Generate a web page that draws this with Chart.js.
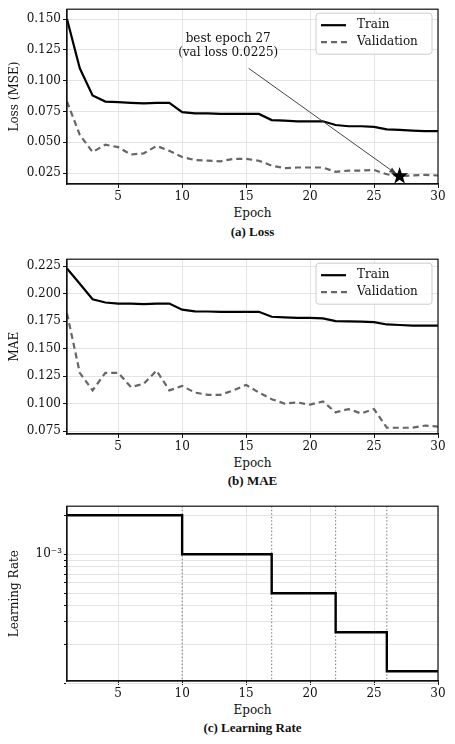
<!DOCTYPE html>
<html><head><meta charset="utf-8">
<script src="https://cdn.jsdelivr.net/npm/chart.js@4/dist/chart.umd.min.js"></script>
<style>
body{margin:0;background:#fff;width:455px;height:744px;position:relative;font-family:"DejaVu Serif",serif;}
.c{position:absolute;left:0;width:455px;}
.t{position:absolute;left:67px;width:371px;text-align:center;font-size:12px;color:#111;line-height:16px;}
.b{font-family:"Liberation Serif",serif;font-weight:bold;font-size:13px;}
</style></head><body>
<div class="c" style="top:0;height:205px"><canvas id="c1"></canvas></div>
<div class="t" style="top:205px">Epoch</div>
<div class="t b" style="top:224px">(a) Loss</div>
<div class="c" style="top:250px;height:205px"><canvas id="c2"></canvas></div>
<div class="t" style="top:455px">Epoch</div>
<div class="t b" style="top:473px">(b) MAE</div>
<div class="c" style="top:497px;height:205px"><canvas id="c3"></canvas></div>
<div class="t" style="top:702px">Epoch</div>
<div class="t b" style="top:720px">(c) Learning Rate</div>
<script>
const epochs=[...Array(30)].map((_,i)=>i+1);
const lossTrain=[0.150,0.110,0.088,0.083,0.0825,0.082,0.0815,0.082,0.082,0.0745,0.0735,0.0735,0.073,0.073,0.073,0.073,0.068,0.0675,0.067,0.067,0.067,0.064,0.063,0.063,0.0625,0.0605,0.060,0.0595,0.059,0.059];
const lossVal=[0.083,0.056,0.042,0.048,0.046,0.040,0.041,0.047,0.043,0.038,0.0355,0.035,0.0345,0.0365,0.0365,0.035,0.031,0.029,0.0295,0.0295,0.0295,0.026,0.027,0.027,0.0275,0.024,0.0225,0.023,0.0235,0.023];
const maeTrain=[0.223,0.209,0.195,0.192,0.191,0.191,0.1905,0.191,0.191,0.1855,0.184,0.1838,0.1835,0.1835,0.1835,0.1835,0.179,0.1785,0.178,0.178,0.1775,0.175,0.1748,0.1745,0.1742,0.172,0.1715,0.171,0.171,0.171];
const maeVal=[0.182,0.128,0.112,0.128,0.128,0.115,0.118,0.130,0.112,0.116,0.110,0.108,0.108,0.112,0.117,0.110,0.104,0.100,0.101,0.099,0.102,0.092,0.095,0.091,0.095,0.078,0.078,0.078,0.080,0.079];
const lr=[0.002,0.002,0.002,0.002,0.002,0.002,0.002,0.002,0.002,0.001,0.001,0.001,0.001,0.001,0.001,0.001,0.0005,0.0005,0.0005,0.0005,0.0005,0.00025,0.00025,0.00025,0.00025,0.000125,0.000125,0.000125,0.000125,0.000125];
const lrDrops=[10,17,22,26];
const bestEpoch=27,bestVal=0.0225;
const lossTicks=[0.025,0.050,0.075,0.100,0.125,0.150];
const maeTicks=[0.075,0.100,0.125,0.150,0.175,0.200,0.225];
const xTicks=[5,10,15,20,25,30];
const FONT={family:"DejaVu Serif",size:12};
Chart.defaults.font=FONT;Chart.defaults.color='#111';
const GRID='#e4e4e4';
function xScale(){return{type:'linear',min:1,max:30,
 afterBuildTicks:s=>{s.ticks=xTicks.map(v=>({value:v}));},
 afterFit:s=>{s.height=21;},
 grid:{color:GRID,drawTicks:true,tickLength:4,tickColor:'#111'},border:{color:'#111',width:1.2},
 ticks:{maxRotation:0,padding:2,callback:v=>v}};}
function yScale(min,max,ticks,title,fmt){return{type:'linear',min,max,
 afterBuildTicks:s=>{s.ticks=ticks.map(v=>({value:v}));},
 afterFit:s=>{s.width=67;},
 grid:{color:GRID,tickLength:4,tickColor:'#111'},border:{color:'#111',width:1.2},
 title:{display:true,text:title,padding:{top:8,bottom:2},font:FONT},
 ticks:{padding:2,callback:fmt}};}
const frame={id:'frame',afterDatasetsDraw(c){const a=c.chartArea,x=c.ctx;x.save();x.strokeStyle='#111';x.lineWidth=1.2;x.strokeRect(a.left,a.top,a.right-a.left,a.bottom-a.top);x.restore();}};
const legend={id:'lg',afterDraw(c){const a=c.chartArea,x=c.ctx;x.save();
 const L=a.right-122,T=a.top+4,W=116,H=41;
 x.fillStyle='rgba(255,255,255,0.85)';x.strokeStyle='#ccc';x.lineWidth=1;
 x.beginPath();x.roundRect(L,T,W,H,3);x.fill();x.stroke();
 x.lineWidth=2.2;x.strokeStyle='#000';x.beginPath();x.moveTo(L+5,T+12);x.lineTo(L+30,T+12);x.stroke();
 x.strokeStyle='#666';x.setLineDash([6,4]);x.beginPath();x.moveTo(L+5,T+29);x.lineTo(L+32,T+29);x.stroke();x.setLineDash([]);
 x.fillStyle='#111';x.font='12px "DejaVu Serif"';x.textBaseline='middle';x.fillText('Train',L+41,T+12);x.fillText('Validation',L+41,T+29);x.restore();}};
function ds(data,val){return{data:data.map((v,i)=>({x:epochs[i],y:v})),borderColor:val?'#666':'#000',borderWidth:2.2,borderDash:val?[6,4]:[],pointRadius:0,tension:0};}
const base={responsive:true,maintainAspectRatio:false,animation:false,layout:{padding:{left:0,right:17,top:8,bottom:0}},plugins:{legend:{display:false},tooltip:{enabled:false}}};
const annot={id:'an',afterDraw(c){const xs=c.scales.x,ys=c.scales.y,x=c.ctx;x.save();
 const tx=xs.getPixelForValue(13.6),ty=ys.getPixelForValue(0.1285);
 x.fillStyle='#111';x.font='12px "DejaVu Serif"';x.textAlign='center';x.textBaseline='middle';
 x.fillText('best epoch 27',tx,ty-7);x.fillText('(val loss 0.0225)',tx,ty+7);
 const sx=xs.getPixelForValue(15.2),sy=ys.getPixelForValue(0.110);
 const ex=xs.getPixelForValue(bestEpoch)-3,ey=ys.getPixelForValue(bestVal)-2;
 x.strokeStyle='#444';x.lineWidth=1;x.beginPath();x.moveTo(sx,sy);x.lineTo(ex,ey);x.stroke();
 const ang=Math.atan2(ey-sy,ex-sx);x.fillStyle='#444';x.beginPath();x.moveTo(ex,ey);
 x.lineTo(ex-8*Math.cos(ang-0.35),ey-8*Math.sin(ang-0.35));x.lineTo(ex-8*Math.cos(ang+0.35),ey-8*Math.sin(ang+0.35));x.closePath();x.fill();
 const px=xs.getPixelForValue(bestEpoch),py=ys.getPixelForValue(bestVal);
 x.fillStyle='#000';x.beginPath();for(let i=0;i<10;i++){const r=i%2?3.6:9,t=-Math.PI/2+i*Math.PI/5;x.lineTo(px+r*Math.cos(t),py+r*Math.sin(t));}x.closePath();x.fill();
 x.restore();}};
new Chart(document.getElementById('c1'),{type:'line',data:{datasets:[ds(lossTrain,0),ds(lossVal,1)]},
 options:{...base,scales:{x:xScale(),y:yScale(0.0161,0.158,lossTicks,'Loss (MSE)',v=>v.toFixed(3))}},plugins:[frame,legend,annot]});
new Chart(document.getElementById('c2'),{type:'line',data:{datasets:[ds(maeTrain,0),ds(maeVal,1)]},
 options:{...base,scales:{x:xScale(),y:yScale(0.0723,0.2314,maeTicks,'MAE',v=>v.toFixed(3))}},plugins:[frame,legend]});
const lrGrid=[1e-4,2e-4,3e-4,4e-4,5e-4,6e-4,7e-4,8e-4,9e-4,1e-3,2e-3];
const drops={id:'dr',beforeDatasetsDraw(c){const xs=c.scales.x,a=c.chartArea,x=c.ctx;x.save();x.strokeStyle='#777';x.lineWidth=1;x.setLineDash([1.5,2]);
 lrDrops.forEach(e=>{const p=xs.getPixelForValue(e);x.beginPath();x.moveTo(p,a.top);x.lineTo(p,a.bottom);x.stroke();});x.restore();}};
new Chart(document.getElementById('c3'),{type:'line',data:{datasets:[{data:lr.map((v,i)=>({x:epochs[i],y:v})),borderColor:'#000',borderWidth:2.4,stepped:'before',pointRadius:0}]},
 options:{...base,scales:{x:xScale(),y:{type:'logarithmic',min:1.05e-4,max:2.35e-3,
  afterBuildTicks:s=>{s.ticks=lrGrid.map(v=>({value:v,major:v===1e-3}));},
  afterFit:s=>{s.width=67;},
  grid:{color:GRID,tickLength:3,tickColor:'#111'},border:{color:'#111',width:1.2},
  title:{display:true,text:'Learning Rate',padding:{top:8,bottom:2},font:FONT},
  ticks:{autoSkip:false,padding:2,callback:v=>Math.abs(v-1e-3)<1e-9?'10⁻³':''}}}},plugins:[frame,drops]});
</script></body></html>
